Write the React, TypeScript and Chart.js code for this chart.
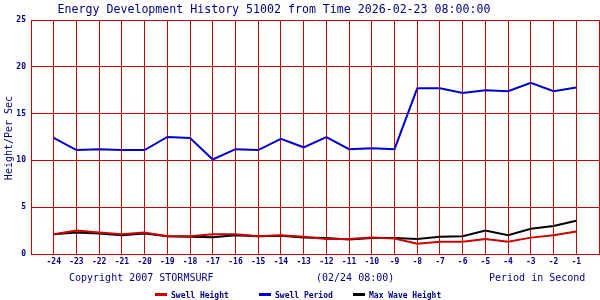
import React, { useEffect, useRef } from "react";
import { Chart, registerables } from "chart.js";

Chart.register(...registerables);

const hours = [-24, -23, -22, -21, -20, -19, -18, -17, -16, -15, -14, -13, -12, -11, -10, -9, -8, -7, -6, -5, -4, -3, -2, -1];
const swellHeight = [2.1, 2.5, 2.3, 2.1, 2.3, 1.9, 1.9, 2.1, 2.1, 1.9, 2.0, 1.85, 1.6, 1.6, 1.75, 1.65, 1.1, 1.3, 1.3, 1.6, 1.3, 1.75, 2.0, 2.4];
const swellPeriod = [12.4, 11.1, 11.2, 11.1, 11.1, 12.5, 12.4, 10.1, 11.2, 11.1, 12.3, 11.4, 12.5, 11.2, 11.3, 11.2, 17.7, 17.7, 17.2, 17.5, 17.4, 18.3, 17.4, 17.8];
const maxWaveHeight = [2.1, 2.3, 2.2, 2.0, 2.2, 1.9, 1.85, 1.8, 2.0, 1.9, 1.95, 1.75, 1.7, 1.55, 1.7, 1.7, 1.6, 1.85, 1.9, 2.5, 2.0, 2.7, 3.0, 3.55];

const seriesNames = ["Swell Height", "Swell Period", "Max Wave Height"];
const seriesColors = ["#cc0000", "#0000cc", "#000000"];

const titleText = "Energy Development History 51002 from Time 2026-02-23 08:00:00";
const yAxisTitle = "Height/Per Sec";
const footLeft = "Copyright 2007 STORMSURF";
const footMid = "(02/24 08:00)";
const footRight = "Period in Second";

const NAVY = "#000080";
const GRID = "#cc0000";
const MONO = '"DejaVu Sans Mono", "Liberation Mono", monospace';

const textPlugin = {
  id: "stormsurfText",
  afterDraw(chart: any) {
    const ctx = chart.ctx as CanvasRenderingContext2D;
    ctx.save();
    ctx.fillStyle = NAVY;
    ctx.font = `11.6px ${MONO}`;
    ctx.textAlign = "center";
    ctx.textBaseline = "alphabetic";
    ctx.fillText(titleText, 274, 13);
    ctx.save();
    ctx.translate(11.5, 138);
    ctx.rotate(-Math.PI / 2);
    ctx.font = `10px ${MONO}`;
    ctx.textAlign = "center";
    ctx.fillText(yAxisTitle, 0, 0);
    ctx.restore();
    ctx.font = `10px ${MONO}`;
    ctx.textAlign = "left";
    ctx.fillText(footLeft, 69, 281);
    ctx.fillText(footMid, 316, 281);
    ctx.fillText(footRight, 489, 281);
    const legendX = [155, 259, 353];
    ctx.font = `bold 8px ${MONO}`;
    seriesNames.forEach((name, i) => {
      ctx.fillStyle = seriesColors[i];
      ctx.fillRect(legendX[i], 293, 12, 3);
      ctx.fillStyle = NAVY;
      ctx.fillText(name, legendX[i] + 16, 297.5);
    });
    ctx.restore();
  },
};

export default function App() {
  const ref = useRef<HTMLCanvasElement | null>(null);
  useEffect(() => {
    if (!ref.current) return;
    const mk = (vals: number[]) => hours.map((h, i) => ({ x: h, y: vals[i] }));
    const ds = [swellHeight, swellPeriod, maxWaveHeight].map((vals, i) => ({
      label: seriesNames[i],
      data: mk(vals),
      borderColor: seriesColors[i],
      backgroundColor: seriesColors[i],
      borderWidth: 2,
      pointRadius: 0,
      tension: 0,
      fill: false,
      order: i === 0 ? 0 : i === 2 ? 1 : 2,
    }));
    const chart = new Chart(ref.current, {
      type: "line",
      data: { datasets: ds },
      plugins: [textPlugin],
      options: {
        animation: false,
        responsive: false,
        maintainAspectRatio: false,
        layout: { padding: { top: 20, right: 1, left: 0, bottom: 0 } },
        plugins: { legend: { display: false }, title: { display: false }, tooltip: { enabled: false } },
        scales: {
          x: {
            type: "linear",
            min: -25,
            max: 0,
            afterFit: (s: any) => { s.height = 46; s.paddingLeft = 0; s.paddingRight = 0; },
            grid: { color: GRID, lineWidth: 1, drawTicks: false },
            border: { color: GRID, width: 1 },
            ticks: {
              stepSize: 1,
              autoSkip: false,
              maxRotation: 0,
              padding: 3,
              color: NAVY,
              font: { family: MONO, size: 8, weight: "bold" },
              callback: (v: any) => (v === -25 || v === 0 ? "" : String(v)),
            },
          },
          y: {
            min: 0,
            max: 25,
            afterFit: (s: any) => { s.width = 31; s.paddingTop = 0; s.paddingBottom = 0; },
            grid: { color: GRID, lineWidth: 1, drawTicks: false },
            border: { color: GRID, width: 1 },
            ticks: {
              stepSize: 5,
              padding: 5,
              color: NAVY,
              font: { family: MONO, size: 8, weight: "bold" },
            },
          },
        },
      },
    });
    return () => chart.destroy();
  }, []);
  return (
    <div style={{ position: "fixed", left: 0, top: 0, width: 600, height: 300, background: "#fff" }}>
      <canvas ref={ref} width={600} height={300} style={{ width: 600, height: 300, display: "block" }} />
    </div>
  );
}
